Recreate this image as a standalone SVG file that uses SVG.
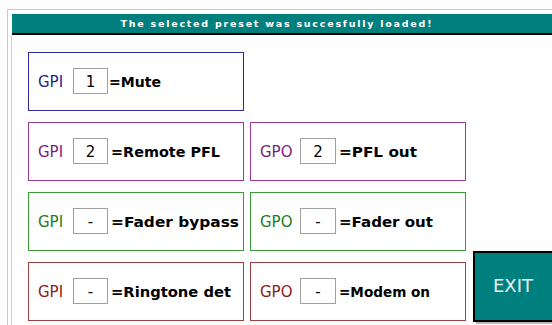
<svg xmlns="http://www.w3.org/2000/svg" width="552" height="325" viewBox="0 0 552 325">
<style>
.lbl{font-family:"DejaVu Sans","Liberation Sans",sans-serif;font-size:15px}
.txt{font-family:"DejaVu Sans","Liberation Sans",sans-serif;font-size:14.5px;font-weight:bold;fill:#000}
.num{font-family:"DejaVu Sans","Liberation Sans",sans-serif;font-size:15px;fill:#000;text-anchor:middle}
.inp{fill:#fff;stroke:#a0a0a0;stroke-width:1}
.b1{fill:#fff;stroke:#2a2a9a;stroke-width:1}
.b2{fill:#fff;stroke:#9a3a9a;stroke-width:1}
.b3{fill:#fff;stroke:#3a9a3a;stroke-width:1}
.b4{fill:#fff;stroke:#a04040;stroke-width:1}
.c1{fill:#1f1f8f}.c2{fill:#7f1a7f}.c3{fill:#1a801a}.c4{fill:#8b1a1a}
</style>
<rect x="0" y="0" width="552" height="325" fill="#fff"/>
<g id="frame">
<line x1="7.5" y1="9.5" x2="552" y2="9.5" stroke="#c8c8c8"/>
<line x1="7.5" y1="9.5" x2="7.5" y2="325" stroke="#c8c8c8"/>
<line x1="11.5" y1="35" x2="11.5" y2="325" stroke="#d0d0d0"/>
<rect x="12" y="14" width="540" height="19" fill="#007f7f"/>
<rect x="12" y="33" width="540" height="2" fill="#000"/>
<text x="276" y="27" text-anchor="middle" font-family="'DejaVu Sans','Liberation Sans',sans-serif" font-size="9.5" font-weight="bold" fill="#fff" textLength="311" lengthAdjust="spacing">The selected preset was succesfully loaded!</text>
</g>
<g id="gpi1">
<rect class="b1" x="28.5" y="52.5" width="215" height="58"/>
<text class="lbl c1" x="38" y="87">GPI</text>
<rect class="inp" x="73.5" y="68.5" width="34" height="25"/>
<text class="num" x="90.5" y="87">1</text>
<text class="txt" x="109" y="87" textLength="52" lengthAdjust="spacingAndGlyphs">=Mute</text>
</g>
<g id="gpi2">
<rect class="b2" x="28.5" y="122.5" width="215" height="58"/>
<text class="lbl c2" x="38" y="157">GPI</text>
<rect class="inp" x="73.5" y="138.5" width="34" height="25"/>
<text class="num" x="90.5" y="157">2</text>
<text class="txt" x="111" y="157" textLength="109" lengthAdjust="spacingAndGlyphs">=Remote PFL</text>
</g>
<g id="gpo2">
<rect class="b2" x="250.5" y="122.5" width="215" height="58"/>
<text class="lbl c2" x="260" y="157">GPO</text>
<rect class="inp" x="300.5" y="138.5" width="35" height="25"/>
<text class="num" x="318" y="157">2</text>
<text class="txt" x="339" y="157" textLength="78" lengthAdjust="spacingAndGlyphs">=PFL out</text>
</g>
<g id="gpi3">
<rect class="b3" x="28.5" y="192.5" width="215" height="58"/>
<text class="lbl c3" x="38" y="227">GPI</text>
<rect class="inp" x="73.5" y="208.5" width="34" height="25"/>
<text class="num" x="90.5" y="227">-</text>
<text class="txt" x="111" y="227" textLength="128" lengthAdjust="spacingAndGlyphs">=Fader bypass</text>
</g>
<g id="gpo3">
<rect class="b3" x="250.5" y="192.5" width="215" height="58"/>
<text class="lbl c3" x="260" y="227">GPO</text>
<rect class="inp" x="300.5" y="208.5" width="35" height="25"/>
<text class="num" x="318" y="227">-</text>
<text class="txt" x="339" y="227" textLength="94" lengthAdjust="spacingAndGlyphs">=Fader out</text>
</g>
<g id="gpi4">
<rect class="b4" x="28.5" y="262.5" width="215" height="58"/>
<text class="lbl c4" x="38" y="297">GPI</text>
<rect class="inp" x="73.5" y="278.5" width="34" height="25"/>
<text class="num" x="90.5" y="297">-</text>
<text class="txt" x="111" y="297" textLength="120" lengthAdjust="spacingAndGlyphs">=Ringtone det</text>
</g>
<g id="gpo4">
<rect class="b4" x="250.5" y="262.5" width="215" height="58"/>
<text class="lbl c4" x="260" y="297">GPO</text>
<rect class="inp" x="300.5" y="278.5" width="35" height="25"/>
<text class="num" x="318" y="297">-</text>
<text class="txt" x="339" y="297" textLength="91" lengthAdjust="spacingAndGlyphs">=Modem on</text>
</g>
<g id="exit">
<rect x="476" y="321" width="76" height="3" fill="#b8b8b8"/>
<rect x="474" y="252" width="80" height="69" fill="#007f7f" stroke="#000" stroke-width="2"/>
<text x="513" y="292" text-anchor="middle" font-family="'DejaVu Sans','Liberation Sans',sans-serif" font-size="18" fill="#e8f4f4">EXIT</text>
</g>
</svg>
